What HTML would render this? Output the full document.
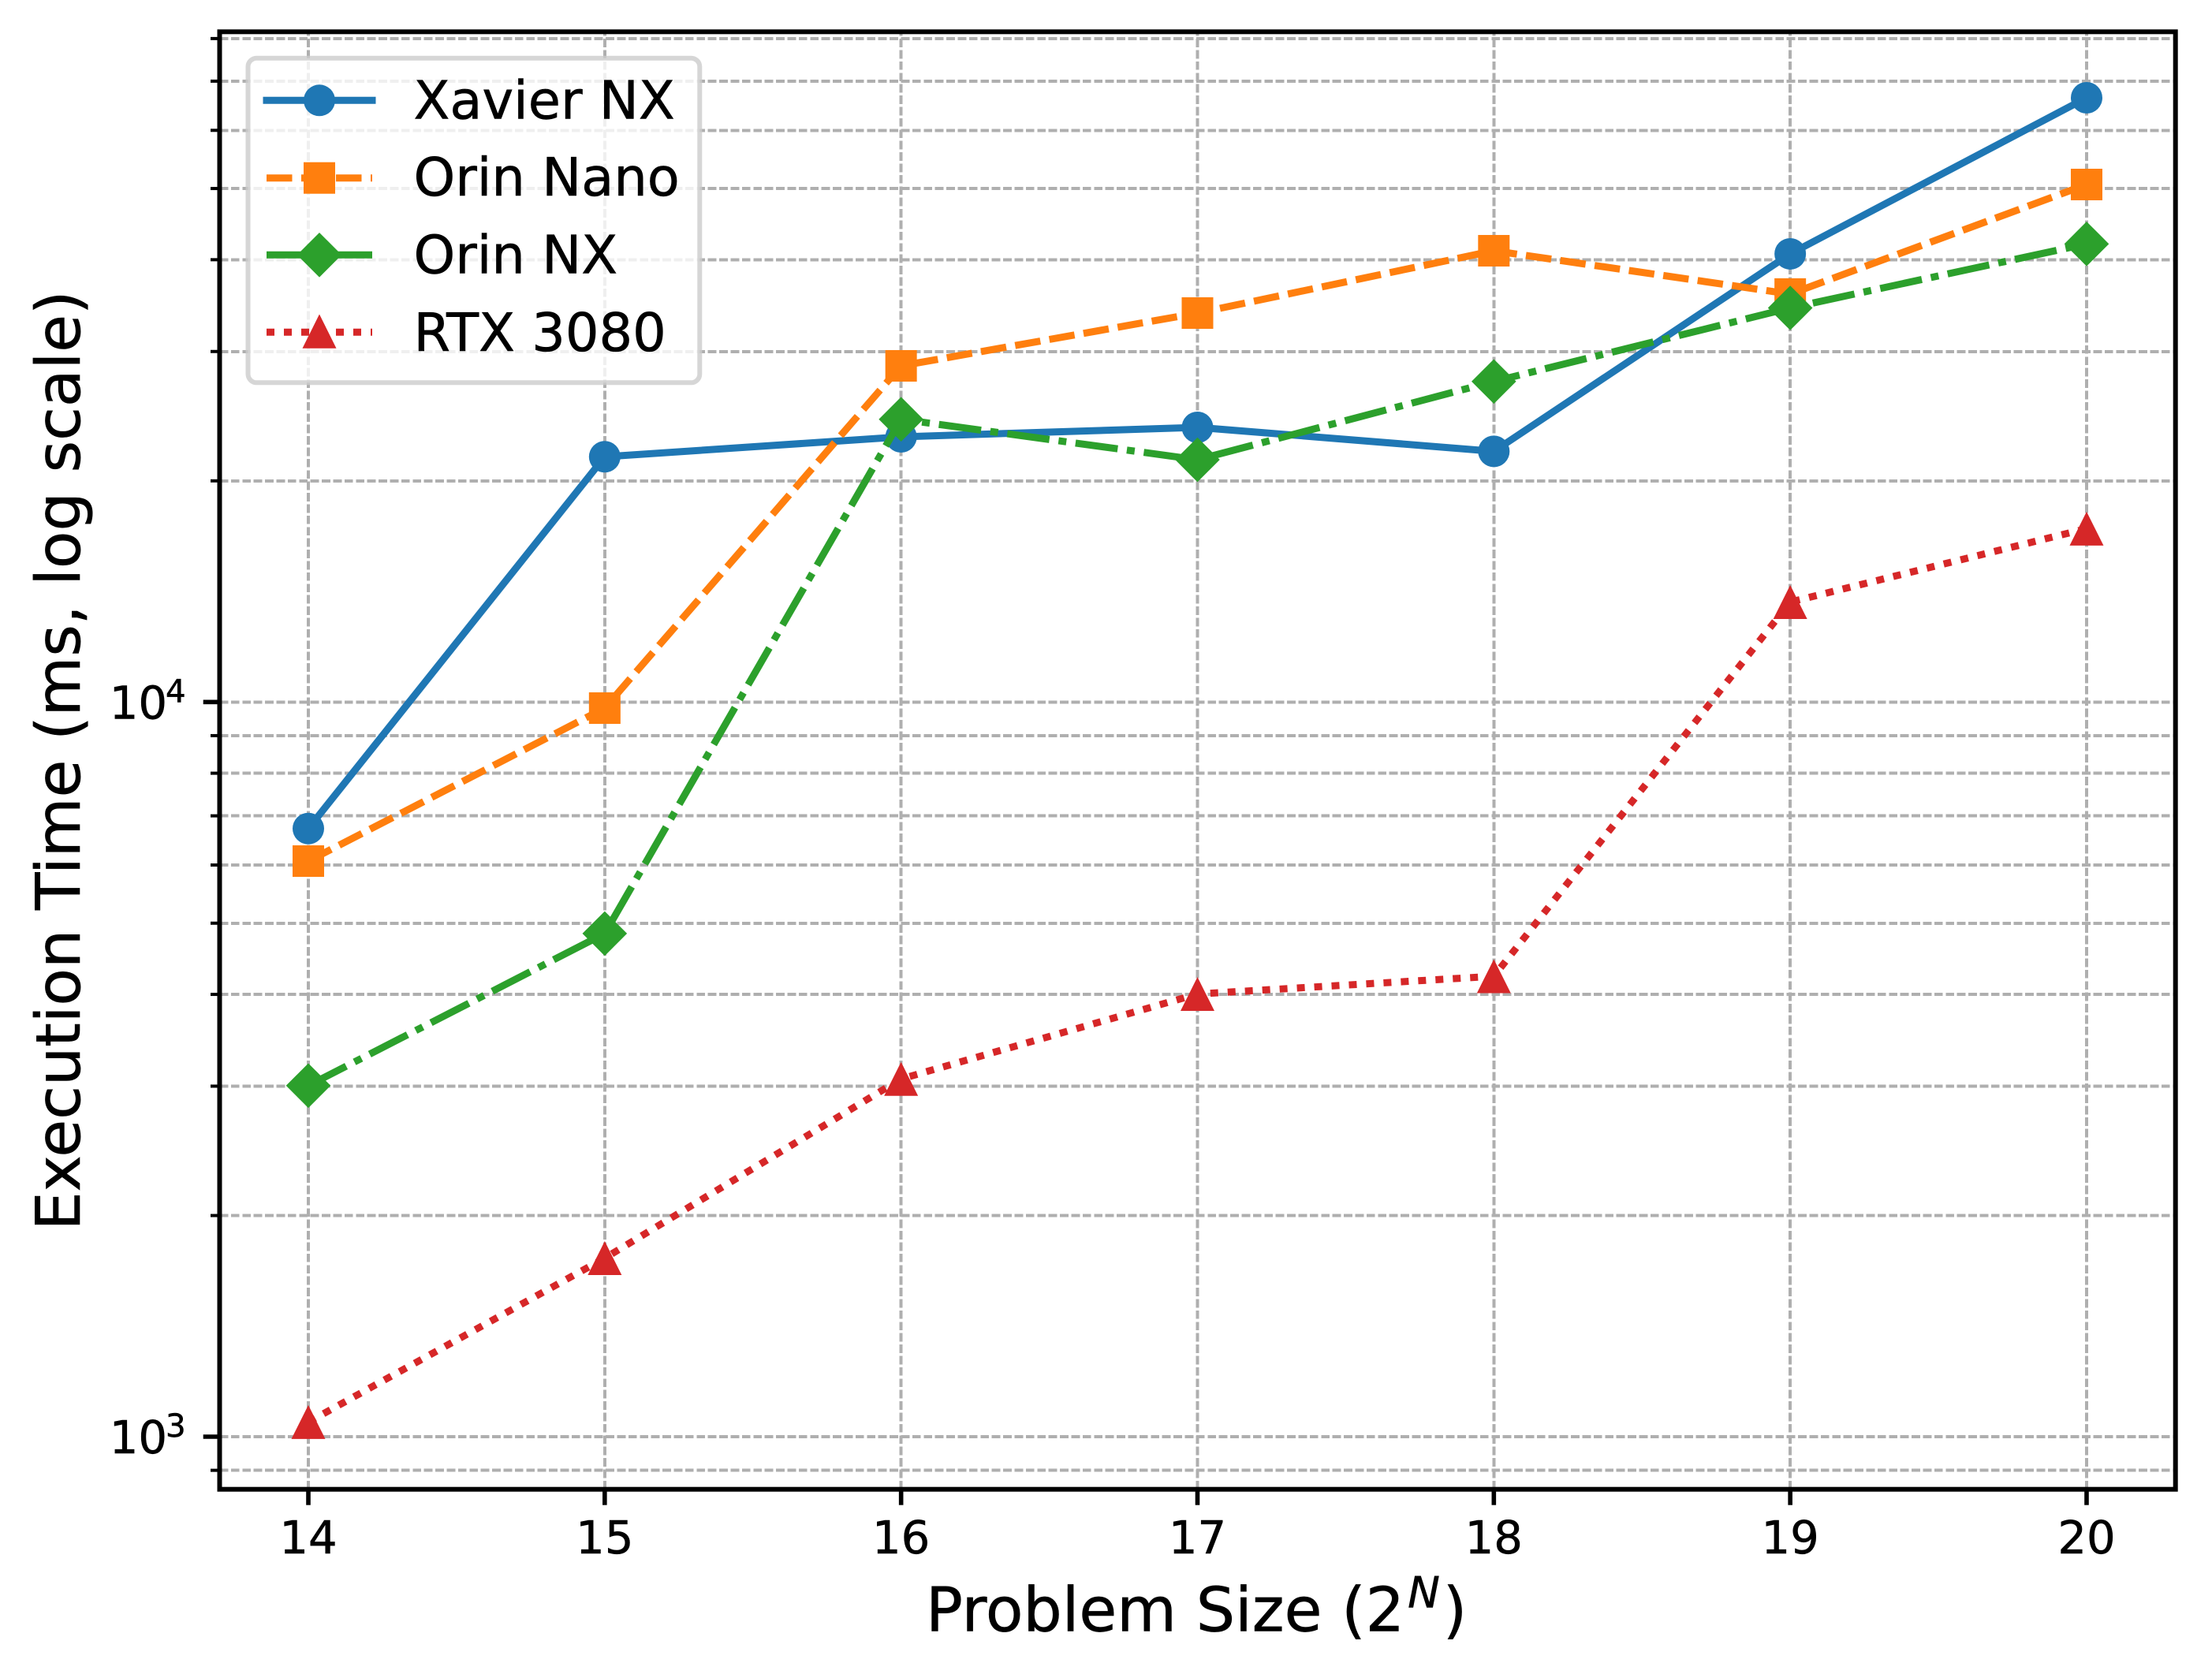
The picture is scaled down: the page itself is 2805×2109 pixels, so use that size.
<!DOCTYPE html>
<html lang="en">
<head>
<meta charset="utf-8">
<title>Execution Time vs Problem Size</title>
<style>
html,body{margin:0;padding:0;background:#fff;}
svg{display:block;}
text{font-family:"DejaVu Sans","Liberation Sans",sans-serif;fill:#000;stroke:#000;stroke-width:0.6px;text-rendering:geometricPrecision;}
</style>
</head>
<body>
<svg id="chart" xmlns="http://www.w3.org/2000/svg" width="2805" height="2109" viewBox="0 0 2805 2109">
  <rect x="0" y="0" width="2805" height="2109" fill="#ffffff"/>
  <defs>
    <clipPath id="plot-clip"><rect x="278.5" y="40.3" width="2480.2" height="1848.4"/></clipPath>
  </defs>
  <g id="grid" clip-path="url(#plot-clip)"></g>
  <g id="series" clip-path="url(#plot-clip)"></g>

  <g>
    <rect x="314.5" y="73.7" width="572.8" height="411.6" rx="11" ry="11" fill="#ffffff" fill-opacity="0.8" stroke="#cccccc" stroke-opacity="0.8" stroke-width="6"/>
    <g>
      <line x1="338" y1="127.3" x2="472" y2="127.3" stroke="#1f77b4" stroke-width="9" stroke-linecap="square"/>
      <circle cx="405" cy="127.3" r="20" fill="#1f77b4"/>
      <text x="524.5" y="150.7" font-size="67">Xavier NX</text>
    </g>
    <g>
      <line x1="338" y1="225.7" x2="472" y2="225.7" stroke="#ff7f0e" stroke-width="9" stroke-dasharray="32.5 11.5"/>
      <rect x="385" y="205.7" width="40" height="40" fill="#ff7f0e"/>
      <text x="524.5" y="248" font-size="67">Orin Nano</text>
    </g>
    <g>
      <line x1="338" y1="323.3" x2="472" y2="323.3" stroke="#2ca02c" stroke-width="9" stroke-dasharray="54 11.7 10 11.7"/>
      <polygon points="405,295 433.3,323.3 405,351.6 376.7,323.3" fill="#2ca02c"/>
      <text x="524.5" y="346.7" font-size="67">Orin NX</text>
    </g>
    <g>
      <line x1="338" y1="421.3" x2="472" y2="421.3" stroke="#d62728" stroke-width="9" stroke-dasharray="10 12"/>
      <polygon points="405,398.5 426.5,441.7 383.5,441.7" fill="#d62728"/>
      <text x="524.5" y="445" font-size="67">RTX 3080</text>
    </g>
  </g>

  <g id="ticks"></g>
  <g id="tick-labels"></g>

  <g fill="none" stroke="#000000" stroke-width="6">
    <rect x="278.5" y="40.3" width="2480.2" height="1848.4"/>
  </g>

  <text x="1174" y="2068.3" font-size="77.8">Problem Size (2<tspan font-size="54.5" font-style="italic" dx="4" dy="-30">N</tspan><tspan dx="4" dy="30">)</tspan></text>
  <text transform="translate(101 964.5) rotate(-90)" text-anchor="middle" font-size="77.8">Execution Time (ms, log scale)</text>
</svg>

<script>
const problemSizes = [14, 15, 16, 17, 18, 19, 20];
const xavierNx = [6726, 21570, 22960, 23650, 21940, 40740, 66450];
const orinNano = [6074, 9811, 28680, 33840, 41140, 35920, 50630];
const orinNx = [3005, 4840, 24260, 21370, 27310, 34390, 42030];
const rtx3080 = [1047, 1750, 3069, 4005, 4234, 13680, 17220];
const xTickLabels = ['14', '15', '16', '17', '18', '19', '20'];
const yMajorTicks = [1000, 10000];
const yMajorExponents = ['3', '4'];
const yMinorTicks = [900, 2000, 3000, 4000, 5000, 6000, 7000, 8000, 9000, 20000, 30000, 40000, 50000, 60000, 70000, 80000];

const NS = 'http://www.w3.org/2000/svg';
function xScale(v) { return 391 + (v - 14) * 375.83; }
function yScale(v) { return 1822 - (Math.log10(v) - 3) * 931.7; }
function make(tag, attrs, parent) {
  const el = document.createElementNS(NS, tag);
  for (const k in attrs) el.setAttribute(k, attrs[k]);
  parent.appendChild(el);
  return el;
}
const gridG = document.getElementById('grid');
const seriesG = document.getElementById('series');
const ticksG = document.getElementById('ticks');
const labelsG = document.getElementById('tick-labels');
const LEFT = 278.5, RIGHT = 2758.7, TOP = 40.3, BOTTOM = 1888.7;
const gridStyle = {stroke: '#afafaf', 'stroke-width': 4, 'stroke-dasharray': '10.8 3.6', 'shape-rendering': 'crispEdges', fill: 'none'};

problemSizes.forEach(function (v, i) {
  const x = xScale(v);
  const g = make('line', Object.assign({x1: x, x2: x, y1: BOTTOM, y2: TOP}, gridStyle), gridG);
  
  
  const t = make('line', {x1: x, x2: x, y1: BOTTOM, y2: 1908.7, stroke: '#000', 'stroke-width': 5.6}, ticksG);
  
  
  const l = make('text', {x: x, y: 1970, 'text-anchor': 'middle', 'font-size': 57.6}, labelsG);
  l.textContent = xTickLabels[i];
  
  
});

yMinorTicks.forEach(function (v) {
  const y = yScale(v);
  const g = make('line', Object.assign({x1: LEFT, x2: RIGHT, y1: y, y2: y}, gridStyle), gridG);
  
  
  const t = make('line', {x1: 267, x2: LEFT, y1: y, y2: y, stroke: '#000', 'stroke-width': 4}, ticksG);
  
  
});

yMajorTicks.forEach(function (v, i) {
  const y = yScale(v);
  const g = make('line', Object.assign({x1: LEFT, x2: RIGHT, y1: y, y2: y}, gridStyle), gridG);
  
  
  const t = make('line', {x1: 257.7, x2: LEFT, y1: y, y2: y, stroke: '#000', 'stroke-width': 5.6}, ticksG);
  
  
  const l = make('text', {x: 138.7, y: y + 21, 'font-size': 57.6}, labelsG);
  l.textContent = '10';
  const s = make('tspan', {'font-size': 40.3, dy: -21, dx: -2}, l);
  s.textContent = yMajorExponents[i];
  
  
});

function drawSeries(values, color, dash, markerType, name) {
  const group = make('g', {}, seriesG);
  
  
  const points = values.map(function (v, i) { return xScale(problemSizes[i]) + ',' + yScale(v); }).join(' ');
  const attrs = {points: points, fill: 'none', stroke: color, 'stroke-width': 9, 'stroke-linejoin': 'round'};
  if (dash) attrs['stroke-dasharray'] = dash;
  const line = make('polyline', attrs, group);
  
  
  values.forEach(function (v, i) {
    const x = xScale(problemSizes[i]);
    const y = yScale(v);
    let m;
    if (markerType === 'circle') {
      m = make('circle', {cx: x, cy: y, r: 20, fill: color}, group);
    } else if (markerType === 'square') {
      m = make('rect', {x: x - 20, y: y - 20, width: 40, height: 40, fill: color}, group);
    } else if (markerType === 'diamond') {
      const d = 28.3;
      m = make('polygon', {points: x + ',' + (y - d) + ' ' + (x + d) + ',' + y + ' ' + x + ',' + (y + d) + ' ' + (x - d) + ',' + y, fill: color}, group);
    } else {
      const h = 21.5;
      m = make('polygon', {points: x + ',' + (y - h) + ' ' + (x + h) + ',' + (y + h) + ' ' + (x - h) + ',' + (y + h), fill: color}, group);
    }
    
    
  });
}

drawSeries(xavierNx, '#1f77b4', null, 'circle', 'xavier-nx');
drawSeries(orinNano, '#ff7f0e', '32.5 11.5', 'square', 'orin-nano');
drawSeries(orinNx, '#2ca02c', '54 11.7 10 11.7', 'diamond', 'orin-nx');
drawSeries(rtx3080, '#d62728', '10 12', 'triangle', 'rtx-3080');
</script>
</body>
</html>
